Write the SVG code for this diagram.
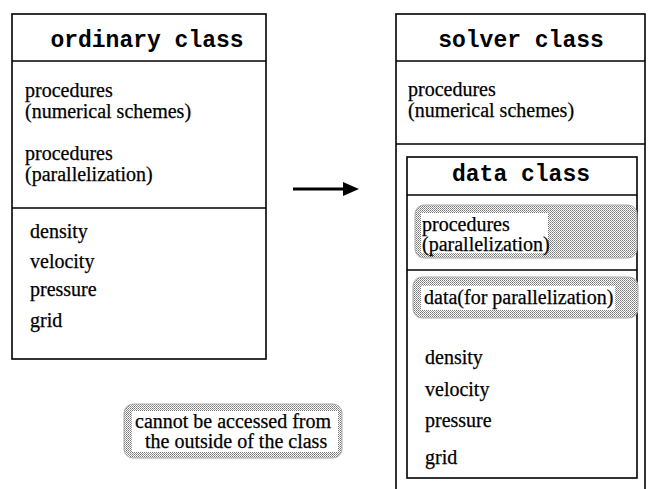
<svg xmlns="http://www.w3.org/2000/svg" width="648" height="489" viewBox="0 0 648 489">
<defs>
<pattern id="dots" width="2" height="2" patternUnits="userSpaceOnUse">
<rect width="2" height="2" fill="#fff"/>
<rect width="1" height="1" fill="#777"/>
<rect x="1" y="1" width="1" height="1" fill="#999"/>
</pattern>
</defs>
<style>
.box{fill:#fff;stroke:#000;stroke-width:1.6}
.ln{stroke:#000;stroke-width:1.6}
.hd{font-family:"Liberation Mono","Courier New",monospace;font-weight:bold;font-size:23px;fill:#000;text-anchor:middle}
.tx{font-family:"Liberation Serif","Times New Roman",serif;font-size:20px;fill:#000;stroke:#000;stroke-width:0.25}
.sh{fill:url(#dots);stroke:#aaa;stroke-width:1}
.wb{fill:#fff}
</style>
<g id="ordinary-class">
<rect class="box" x="12" y="14" width="254" height="345"/>
<line class="ln" x1="12" y1="61" x2="266" y2="61"/>
<line class="ln" x1="12" y1="208" x2="266" y2="208"/>
<text class="hd" x="147" y="47">ordinary class</text>
<text class="tx" x="25" y="97">procedures</text>
<text class="tx" x="25" y="118">(numerical schemes)</text>
<text class="tx" x="25" y="160">procedures</text>
<text class="tx" x="25" y="181">(parallelization)</text>
<text class="tx" x="30" y="238">density</text>
<text class="tx" x="30" y="268">velocity</text>
<text class="tx" x="30" y="296">pressure</text>
<text class="tx" x="30" y="327">grid</text>
</g>
<g id="connectors">
<line x1="293" y1="189" x2="344" y2="189" stroke="#000" stroke-width="3"/>
<polygon points="343,182 359,189 343,196" fill="#000"/>
</g>
<g id="solver-class">
<rect class="box" x="396" y="14" width="249" height="490"/>
<line class="ln" x1="396" y1="61" x2="645" y2="61"/>
<line class="ln" x1="396" y1="144" x2="645" y2="144"/>
<text class="hd" x="521" y="47">solver class</text>
<text class="tx" x="408" y="96">procedures</text>
<text class="tx" x="408" y="117">(numerical schemes)</text>
</g>
<g id="data-class">
<rect class="box" x="407" y="157" width="230" height="321"/>
<line class="ln" x1="407" y1="195" x2="637" y2="195"/>
<line class="ln" x1="407" y1="270" x2="637" y2="270"/>
<text class="hd" x="521" y="181">data class</text>
<rect class="sh" x="415" y="205" width="222" height="53" rx="9"/>
<rect class="wb" x="421" y="213" width="127" height="40"/>
<text class="tx" x="422" y="231">procedures</text>
<text class="tx" x="422" y="251">(parallelization)</text>
<rect class="sh" x="413" y="277" width="225" height="41" rx="9"/>
<rect class="wb" x="421" y="286" width="194" height="24"/>
<text class="tx" x="424" y="304">data(for parallelization)</text>
<text class="tx" x="425" y="364">density</text>
<text class="tx" x="425" y="396">velocity</text>
<text class="tx" x="425" y="427">pressure</text>
<text class="tx" x="425" y="464">grid</text>
</g>
<g id="legend">
<rect class="sh" x="124" y="404" width="218" height="54" rx="9"/>
<rect class="wb" x="132" y="411" width="206" height="41"/>
<text class="tx" x="135" y="428">cannot be accessed from</text>
<text class="tx" x="145" y="448">the outside of the class</text>
</g>
</svg>
